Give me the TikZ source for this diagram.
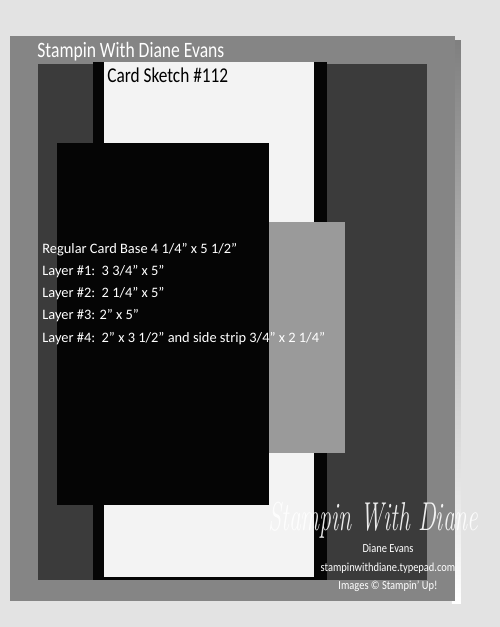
\documentclass[tikz,border=0pt]{standalone}
\usepackage{fontspec}
\usepackage{graphicx}
\setmainfont{Carlito}
\newfontfamily\signfont{Latin Modern Roman}
\usepackage{tikz}

\definecolor{wall}{HTML}{E3E3E3}
\definecolor{shade}{HTML}{B4B4B4}
\definecolor{basegrey}{HTML}{858585}
\definecolor{darkgrey}{HTML}{3B3B3B}
\definecolor{stripgrey}{HTML}{9A9A9A}
\definecolor{paperwhite}{HTML}{F3F3F3}
\definecolor{inkblack}{HTML}{050505}

\begin{document}
\begin{tikzpicture}
	[
	x=0.02cm, y=-0.02cm,
	txt/.style={inner sep=0pt, anchor=base west, text=white},
	info/.style={txt, font=\fontsize{8.2}{9}\selectfont},
	credit/.style={inner sep=0pt, anchor=base, text=white, font=\fontsize{7}{8}\selectfont},
	]
		% wall behind the card
		\fill[wall] (0,0) rectangle (500,627);
		\useasboundingbox (0,0) rectangle (500,627);
		
		% card base and its layers
		\fill[shade] (452,40) rectangle (461,603);
		\fill[basegrey] (10,36) rectangle (455,601);
		\fill[darkgrey] (38,64) rectangle (427,580);
		\fill[inkblack] (93,62) rectangle (327,580);
		\fill[paperwhite] (104,62) rectangle (314,577);
		\fill[inkblack] (57,143) rectangle (269,505);
		\fill[stripgrey] (269,222) rectangle (345,453);
		
		% headings
		\node[txt, font=\fontsize{12.5}{14}\selectfont] (maker) at (37,57) {\scalebox{0.8}[1]{Stampin With Diane Evans}};
		\node[txt, text=black, font=\fontsize{12}{14}\selectfont] (sketch) at (107,82) {\scalebox{0.82}[1]{Card Sketch \#112}};
		
		% sizes
		\node[info] (base) at (42,253) {Regular Card Base 4 1/4” x 5 1/2”};
		\node[info] (one) at (42,275) {Layer \#1:\ \ 3 3/4” x 5”};
		\node[info] (two) at (42,297) {Layer \#2:\ \ 2 1/4” x 5”};
		\node[info] (three) at (42,319) {Layer \#3: 2” x 5”};
		\node[info] (four) at (42,342) {Layer \#4:\ \ 2” x 3 1/2” and side strip 3/4” x 2 1/4”};
		
		% signature
		\node[txt, opacity=0.9, font=\fontsize{13.5}{16}\signfont\itshape] (sign) at (268,530) {\scalebox{1}[1.7]{Stampin With Diane}};
		\node[credit] (name) at (388,552) {\scalebox{0.85}[1]{Diane Evans}};
		\node[credit] (site) at (388,571) {\scalebox{0.85}[1]{stampinwithdiane.typepad.com}};
		\node[credit] (rights) at (388,589) {\scalebox{0.85}[1]{Images © Stampin’ Up!}};
		
	\end{tikzpicture}
\end{document}
